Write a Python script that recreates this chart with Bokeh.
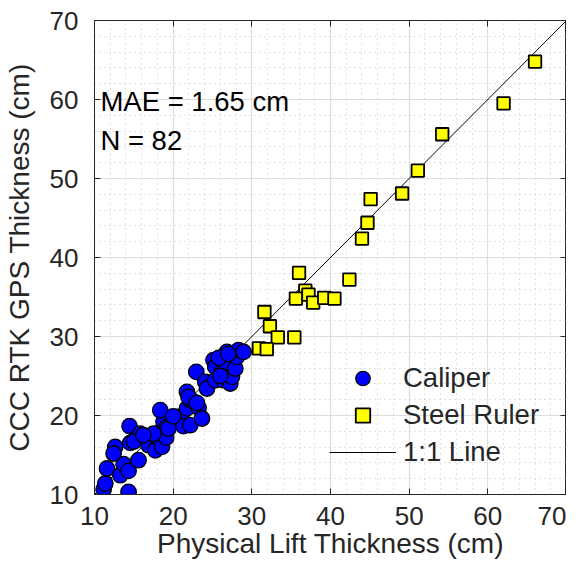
from bokeh.plotting import figure
from bokeh.models import Legend, LegendItem, Label, LinearAxis, Range1d, FixedTicker
from bokeh.embed import file_html
from bokeh.resources import INLINE

caliper_x = [11.16, 11.37, 14.33, 11.59, 13.28, 13.7, 14.33, 12.64, 12.43, 15.6,
             14.46, 15.3, 15.8, 16.67, 14.55, 16.87, 17.73, 17.94, 18.58, 18.58,
             18.78, 19.2, 18.36, 19.12, 20.56, 21.1, 21.3, 22.17, 21.75, 22.17,
             22.6, 23.23, 23.66, 21.75, 21.96, 22.94, 24.08, 24.3, 25.35, 25.13,
             25.35, 26.2, 26.62, 26.84, 26.4, 27.26, 27.47, 27.9, 28.1, 28.3,
             28.95, 15.0, 17.5, 19.4, 16.2, 20.0, 23.0, 25.8, 27.0, 26.0]
caliper_y = [10.63, 11.39, 10.33, 13.29, 12.44, 13.84, 12.99, 16.03, 15.19, 14.34,
             18.65, 17.09, 17.7, 17.09, 16.53, 16.24, 15.6, 17.29, 16.03, 18.14,
             19.19, 18.56, 20.67, 17.21, 19.82, 19.6, 18.65, 18.77, 20.9, 21.94,
             21.72, 21.0, 19.62, 22.99, 22.35, 25.52, 24.25, 23.42, 24.47, 27.0,
             26.15, 25.52, 26.78, 28.05, 24.47, 24.05, 24.89, 25.95, 27.42, 28.27,
             28.05, 16.7, 17.7, 18.35, 17.5, 19.9, 21.6, 27.3, 27.8, 25.0]

ruler_x = [66.0, 62.0, 54.2, 51.1, 49.1, 45.1, 44.7, 44.0, 36.0, 42.4, 36.8,
           35.6, 37.2, 37.8, 39.2, 40.5, 31.6, 32.3, 33.3, 35.4, 30.9, 31.9]
ruler_y = [64.8, 59.5, 55.6, 51.0, 48.1, 47.4, 44.4, 42.4, 38.05, 37.2, 35.8,
           34.8, 35.3, 34.3, 34.9, 34.8, 33.1, 31.3, 29.9, 29.9, 28.5, 28.4]

line_x = [10, 70]
line_y = [10, 70]

ticks = [10, 20, 30, 40, 50, 60, 70]

TXT = "#262626"
FONT = "Liberation Sans"

p = figure(width=566, height=561, output_backend="svg", toolbar_location=None,
           x_range=Range1d(10, 70), y_range=Range1d(10, 70),
           min_border_left=94, min_border_right=0, min_border_top=20, min_border_bottom=66,
           x_axis_label="Physical Lift Thickness (cm)",
           y_axis_label="CCC RTK GPS Thickness (cm)")
p.background_fill_color = "white"
p.border_fill_color = "white"
p.outline_line_color = TXT
p.outline_line_width = 1

for ax in (p.xaxis[0], p.yaxis[0]):
    ax.ticker = FixedTicker(ticks=ticks, minor_ticks=list(range(10, 71, 2)))
    ax.major_tick_in = 6
    ax.major_tick_out = 0
    ax.minor_tick_line_color = None
    ax.axis_line_color = TXT
    ax.major_tick_line_color = TXT
    ax.major_label_text_font = FONT
    ax.major_label_text_font_size = "26px"
    ax.major_label_text_color = TXT
    ax.axis_label_text_font = FONT
    ax.axis_label_text_font_size = "28px"
    ax.axis_label_text_font_style = "normal"
    ax.axis_label_text_color = TXT
p.xaxis[0].major_label_standoff = 8
p.yaxis[0].major_label_standoff = 12
p.xaxis[0].axis_label_standoff = 0
p.yaxis[0].axis_label_standoff = 12

for loc in ("above", "right"):
    a = LinearAxis(ticker=FixedTicker(ticks=ticks), major_tick_in=6, major_tick_out=0,
                   minor_tick_line_color=None, axis_line_color=TXT,
                   major_tick_line_color=TXT, major_label_text_font_size="0px",
                   major_label_standoff=0, major_label_text_color=None)
    p.add_layout(a, loc)

p.xgrid.grid_line_color = "#dedede"
p.ygrid.grid_line_color = "#dedede"
p.xgrid.grid_line_width = 1.2
p.ygrid.grid_line_width = 1.2
p.xgrid.minor_grid_line_color = "#c4c4c4"
p.ygrid.minor_grid_line_color = "#c4c4c4"
p.xgrid.minor_grid_line_dash = "1 4"
p.ygrid.minor_grid_line_dash = "1 4"

ln = p.line(line_x, line_y, line_color="black", line_width=1)
c = p.scatter(caliper_x, caliper_y, marker="circle", size=15.5, fill_color="#0000ff",
              line_color="black", line_width=1.3)
s = p.scatter(ruler_x, ruler_y, marker="square", size=12.5, fill_color="#ffff00",
              line_color="black", line_width=1.8)

legend = Legend(items=[LegendItem(label="Caliper", renderers=[c]),
                       LegendItem(label="Steel Ruler", renderers=[s]),
                       LegendItem(label="1:1 Line", renderers=[ln])],
                location=(235, 24), glyph_width=67, glyph_height=36, label_height=36,
                spacing=1, label_standoff=7, padding=0, margin=0,
                border_line_color=None, background_fill_alpha=0,
                label_text_font=FONT, label_text_font_size="27.5px", label_text_color=TXT)
p.add_layout(legend)

p.add_layout(Label(x=10.75, y=59.7, text="MAE = 1.65 cm", text_baseline="middle",
                   text_font=FONT, text_font_size="27.5px", text_color="black"))
p.add_layout(Label(x=10.75, y=54.85, text="N = 82", text_baseline="middle",
                   text_font=FONT, text_font_size="27.5px", text_color="black"))

open("out.html", "w").write(file_html(p, INLINE))
